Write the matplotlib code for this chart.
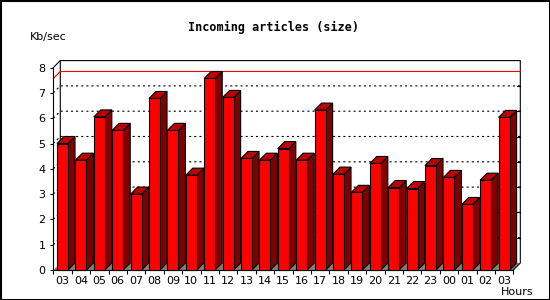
import numpy as np
import matplotlib
matplotlib.use("Agg")
import matplotlib.pyplot as plt
from matplotlib.patches import Polygon, Rectangle

# hourly incoming article volume
hours = ['03', '04', '05', '06', '07', '08', '09', '10', '11', '12', '13', '14', '15',
         '16', '17', '18', '19', '20', '21', '22', '23', '00', '01', '02', '03']
kbps = [5.0, 4.34, 6.05, 5.52, 3.0, 6.78, 5.52, 3.75, 7.57, 6.82, 4.41, 4.34, 4.8,
        4.34, 6.32, 3.79, 3.07, 4.21, 3.26, 3.22, 4.13, 3.66, 2.59, 3.55, 6.03]
yticks = [0, 1, 2, 3, 4, 5, 6, 7, 8]

DEPTH = 7  # pixels of fake 3d depth
FRONT, TOP, SIDE = '#ff0000', '#c00000', '#800000'

plt.rcParams['lines.scale_dashes'] = False

fig = plt.figure(figsize=(5.5, 3.0), dpi=100)
ax = fig.add_axes([53.3 / 550, 30 / 300, 460 / 550, 202.4 / 300])
ax.set_xlim(0, len(hours))
ax.set_ylim(0, yticks[-1])
ax.patch.set_visible(False)
for s in ['top', 'right']:
    ax.spines[s].set_visible(False)
for s in ['left', 'bottom']:
    ax.spines[s].set_linewidth(0.8)

# depth offset in data units
p0 = ax.transData.transform((0, 0))
dx, dy = ax.transData.inverted().transform(p0 + DEPTH) 
n = len(hours)
top = yticks[-1]

# floor
ax.add_patch(Polygon([(0, 0), (n, 0), (n + dx, dy), (dx, dy)], closed=True,
                     facecolor='#808080', edgecolor='none', clip_on=False, zorder=1))

# back wall
ax.plot([dx, dx, n + dx, n + dx, n], [dy, top + dy, top + dy, dy, 0],
        color='black', lw=0.8, clip_on=False, zorder=1.2)
ax.plot([0, dx], [top, top + dy], color='black', lw=0.8, clip_on=False, zorder=1.2)

# dotted grid on back wall
for k in yticks[1:-1]:
    ax.plot([0, dx, n + dx], [k, k + dy, k + dy], color='black', lw=0.8,
            linestyle=(0, (1.5, 2.2)), clip_on=False, zorder=1.3)
    ax.plot([n + dx - 0.16, n + dx], [k + dy, k + dy], color='black', lw=0.8,
            clip_on=False, zorder=1.3)

# max line
vmax = max(kbps)
ax.plot([0, dx, n + dx], [vmax, vmax + dy, vmax + dy], color='red', lw=0.8,
        clip_on=False, zorder=1.4)

# bars
for i, v in enumerate(kbps):
    x0, x1 = i + 0.2, i + 0.8
    ax.add_patch(Polygon([(x1, 0), (x1 + dx, dy), (x1 + dx, v + dy), (x1, v)], closed=True,
                         facecolor=SIDE, edgecolor='black', lw=0.8, clip_on=False, zorder=3))
    ax.add_patch(Polygon([(x0, v), (x1, v), (x1 + dx, v + dy), (x0 + dx, v + dy)], closed=True,
                         facecolor=TOP, edgecolor='black', lw=0.8, clip_on=False, zorder=3))
    ax.add_patch(Rectangle((x0, 0), x1 - x0, v, facecolor=FRONT, edgecolor='black',
                           lw=0.8, clip_on=False, zorder=3.1))

ax.set_xticks(np.arange(n + 1))
ax.set_xticklabels([])
ax.set_xticks(np.arange(n) + 0.5, minor=True)
ax.set_xticklabels(hours, minor=True)
ax.tick_params(axis='x', which='major', length=2.9, width=0.8, direction='out')
ax.tick_params(axis='x', which='minor', length=0, pad=4.0, labelsize=8)
ax.set_yticks(yticks)
ax.tick_params(axis='y', length=2.2, width=0.8, pad=3.4, labelsize=8)

fig.text(274 / 550, 1 - 27 / 300, 'Incoming articles (size)', ha='center', va='center',
         family='DejaVu Sans Mono', weight='bold', fontsize=8.5)
fig.text(30 / 550, 1 - 36.7 / 300, 'Kb/sec', ha='left', va='center', fontsize=8)
fig.text(534 / 550, 8 / 300, 'Hours', ha='right', va='center', fontsize=8)

# outer frame
fig.patches.append(Rectangle((0, 0), 1, 1, transform=fig.transFigure, fill=False,
                             edgecolor='black', lw=2.2, zorder=10))

fig.savefig('out.png', dpi=100)
